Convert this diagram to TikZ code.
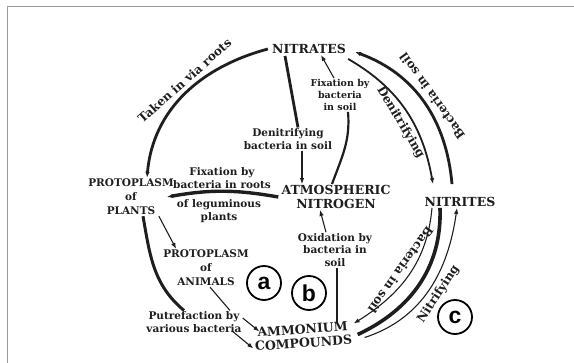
\documentclass[tikz,border=0pt]{standalone}
\usepackage{fontspec}
\setmainfont{DejaVu Serif}
\setsansfont{Liberation Sans}
\usetikzlibrary{arrows.meta,positioning}
\definecolor{ink}{HTML}{1E1E1E}
\definecolor{framegrey}{HTML}{9A9A9A}

\begin{document}
\begin{tikzpicture}[x=1pt,y=1pt,
  big/.style={font=\fontsize{12.5}{14}\selectfont\bfseries,text=ink,inner sep=1pt,align=center},
  proto/.style={font=\fontsize{10.5}{14}\selectfont\bfseries,text=ink,inner sep=1pt,align=center},
  note/.style={font=\fontsize{10.5}{12.5}\selectfont\bfseries,text=ink,inner sep=1pt,align=center},
  curv/.style={font=\fontsize{12}{12}\selectfont\bfseries,text=ink,inner sep=4pt},
  heavy/.style={draw=ink,line width=2.8pt},
  light/.style={draw=ink,line width=1.1pt},
  tip/.style={-{Latex[length=6pt,width=4.5pt]}},
  tag/.style={circle,draw=black,line width=1.8pt,minimum size=34pt,inner sep=0pt,
              font=\fontsize{23}{23}\selectfont\sffamily\bfseries}
]
\useasboundingbox (0,0) rectangle (574,-363);
\draw[framegrey,line width=1pt] (574,-7) -| (7,-363);

% compounds
\node[big] (nitrates) at (309,-49) {NITRATES};
\node[big] (atmo) at (336,-197) {ATMOSPHERIC\\NITROGEN};
\node[big] (nitrites) at (460,-202) {NITRITES};
\node[proto] (plants) at (131,-197) {PROTOPLASM\\of\\PLANTS};
\node[proto] (animals) at (206,-268) {PROTOPLASM\\of\\ANIMALS};
\node[big,rotate=4] (ammon) at (303,-336) {AMMONIUM\\COMPOUNDS};

% bacteria notes
\node[note,font=\fontsize{9.5}{12}\selectfont\bfseries] (fixsoil) at (340,-95) {Fixation by\\bacteria\\in soil};
\node[note] (denit) at (288,-139) {Denitrifying\\bacteria in soil};
\node[note] (fixroot) at (222,-178) {Fixation by\\bacteria in roots};
\node[note] (legume) at (219,-211) {of leguminous\\plants};
\node[note] (oxid) at (335,-250) {Oxidation by\\bacteria in\\soil};
\node[note] (putre) at (194,-322) {Putrefaction by\\various bacteria};

% outer ring
\draw[heavy,tip] ([xshift=-3pt]nitrates.west) to[out=195,in=85]
  node[curv,sloped,above,pos=.45] {Taken in via roots} ([xshift=16pt]plants.north);
\draw[light,line width=1.8pt,tip] ([xshift=1pt,yshift=-4pt]nitrates.south east) to[out=-30,in=100]
  node[curv,sloped,below,pos=.55] {Denitrifying} ([xshift=-27pt,yshift=12pt]nitrites.north);
\draw[heavy,tip] ([xshift=-8pt,yshift=12pt]nitrites.north) to[out=95,in=-20]
  node[curv,sloped,allow upside down,below,pos=.5] {Bacteria in soil} ([xshift=8pt,yshift=-3pt]nitrates.east);
\draw[heavy,line width=3.6pt] ([xshift=-20pt]nitrites.south) to[out=-88,in=25]
  ([xshift=5pt,yshift=-2pt]ammon.east);
\draw[light,tip] ([xshift=-28pt]nitrites.south) to[out=-95,in=32]
  node[curv,sloped,allow upside down,below,pos=.5] {Bacteria in soil} ([xshift=1pt,yshift=9pt]ammon.east);
\draw[light,tip] ([xshift=12pt,yshift=-5pt]ammon.east) to[out=18,in=-98]
  node[curv,sloped,below,pos=.5] {Nitrifying} ([xshift=-3pt]nitrites.south);

% inner links
\draw[heavy] ([xshift=-24pt,yshift=-1pt]nitrates.south) -- ([xshift=10pt]denit.north);
\draw[light,tip] ([xshift=14pt]denit.south) -- ([xshift=14pt]denit.south |- atmo.north);
\draw[heavy,line width=2.2pt] ([xshift=-4pt]atmo.north) to[out=70,in=-85] ([xshift=8pt]fixsoil.south);
\draw[light,tip] ([xshift=-6pt]fixsoil.north) -- ([xshift=12pt]nitrates.south);
\draw[heavy,line width=3.4pt,tip] ([xshift=-2pt]atmo.west) to[bend right=10] ([xshift=-8pt]plants.east);
\draw[light,tip] ([xshift=-16pt]plants.south east) -- ([xshift=14pt]animals.north west);
\draw[heavy,line width=3pt] ([xshift=12pt]plants.south) to[out=-80,in=140] ([xshift=-10pt]putre.north);
\draw[light] ([xshift=4pt]animals.south) -- ([xshift=36pt]putre.north);
\draw[light,tip] ([yshift=4pt]putre.east) -- ([xshift=6pt,yshift=8pt]ammon.west);
\draw[light,tip] ([xshift=-10pt,yshift=2pt]putre.south east) -- ([yshift=-9pt]ammon.west);
\draw[light,line width=1.6pt] ([xshift=2pt]oxid.south) -- ([xshift=2pt]oxid.south |- ammon.north);
\draw[light,tip] ([xshift=-9pt]oxid.north) -- ([xshift=-16pt]atmo.south);

% markers
\node[tag] (a) at (264,-283) {a};
\node[tag] (b) at (309,-293) {b};
\node[tag] (c) at (455,-317) {c};
\end{tikzpicture}
\end{document}
